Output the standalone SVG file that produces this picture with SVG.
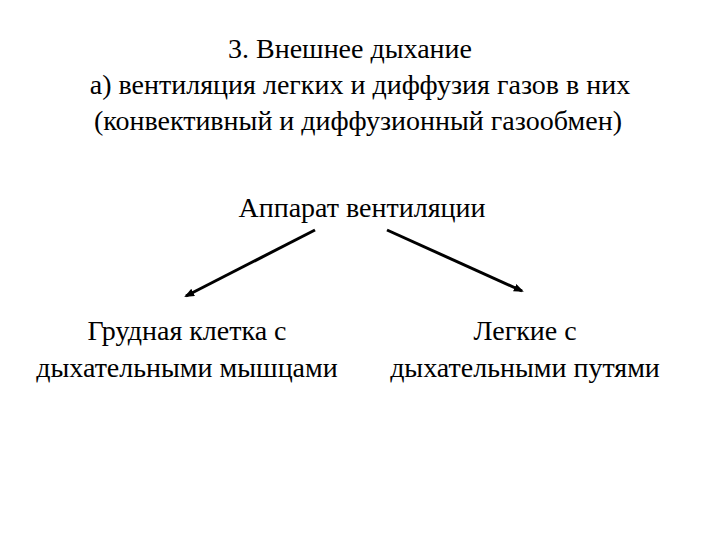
<svg xmlns="http://www.w3.org/2000/svg" width="720" height="540" viewBox="0 0 720 540">
<style>text{font-family:"Liberation Serif","DejaVu Serif",serif;font-size:28px;fill:#000;text-anchor:middle}.c{stroke:#000;stroke-width:3;fill:none;marker-end:url(#a)}</style>
<defs><marker id="a" markerWidth="10" markerHeight="8" refX="8" refY="4" orient="auto" markerUnits="userSpaceOnUse"><path d="M0,0 L10,4 L0,8 Z" fill="#000"/></marker></defs>
<rect width="720" height="540" fill="#fff"/>
<g id="title"><text x="350" y="58">3. Внешнее дыхание</text><text x="360" y="94">а) вентиляция легких и диффузия газов в них</text><text x="358" y="130">(конвективный и диффузионный газообмен)</text></g>
<g id="root"><text x="362" y="217">Аппарат вентиляции</text></g>
<g id="left"><text x="187" y="340">Грудная клетка с</text><text x="187" y="377">дыхательными мышцами</text></g>
<g id="right"><text x="525" y="340">Легкие с</text><text x="525" y="377">дыхательными путями</text></g>
<g id="connectors"><line class="c" x1="315" y1="230" x2="186" y2="296"/><line class="c" x1="387" y1="230" x2="522" y2="291"/></g>
</svg>
